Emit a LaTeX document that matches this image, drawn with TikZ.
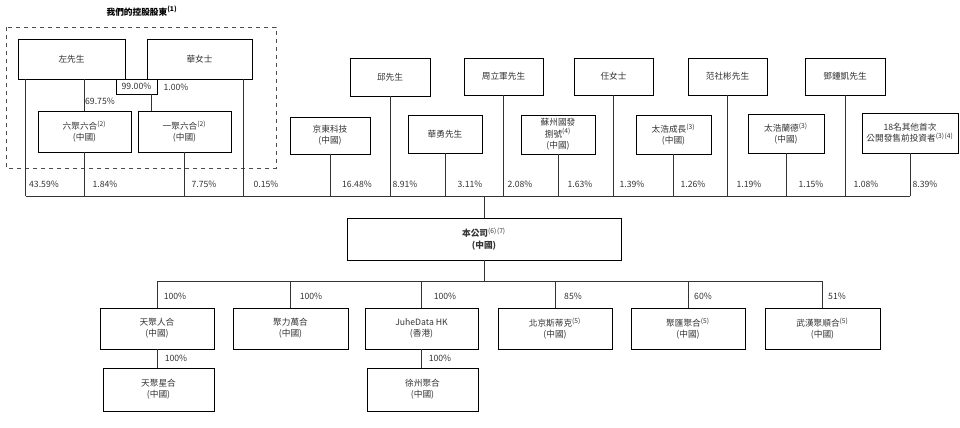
\documentclass[tikz,border=0pt]{standalone}
\usepackage{fontspec}
\setmainfont{Noto Sans CJK TC}
\usetikzlibrary{calc}
\newcommand\supn[1]{\textsuperscript{\tiny(#1)}}
\newcommand\bx[6]{\node[box,minimum width={(#4-#2)*0.75pt},minimum height={(#5-#3)*0.75pt}] (#1) at ({(#2+#4)/2},{(#3+#5)/2}) {#6};}
\begin{document}
\begin{tikzpicture}[x=0.75pt,y=-0.75pt,
  box/.style={draw,line width=0.5pt,inner sep=0pt,align=center,font=\fontsize{6.5}{8.5}\selectfont,text=black!80},
  pct/.style={font=\fontsize{6.5}{8}\selectfont,text=black!80,inner sep=0pt},
  ln/.style={line width=0.5pt,draw=black!80}]
\useasboundingbox (0,0) rectangle (960,428);
\node[font=\fontsize{6.5}{8}\selectfont\bfseries] (title) at (142,11) {我們的控股股東\supn{1}};
\draw[dashed,line width=0.5pt,draw=black!70] (6,27) rectangle (276,168);
\bx{zuo}{18}{39}{125}{79}{左先生}
\bx{hua}{147}{39}{252}{79}{華女士}
\bx{pbox}{116}{79}{157}{94}{\fontsize{6.5}{8}\selectfont 99.00\%}
\node[pct] (p100) at (176,87) {1.00\%};
\bx{liu}{38}{111}{131}{152}{六聚六合\supn{2}\\(中國)}
\bx{yi}{138}{111}{231}{152}{一聚六合\supn{2}\\(中國)}
\node[pct] (p6975) at (100,101) {69.75\%};
\draw[ln] ($(pbox.south east)+(-6,0)$) coordinate (pb) -- (pb |- yi.north);
\draw[ln] (liu.north |- zuo.south) -- (liu.north);
\coordinate (busL) at (26,196);
\coordinate (bus2) at (157,281);
% top level
\bx{jd}{290}{117}{370}{154}{京東科技\\(中國)}
\bx{qiu}{350}{58}{430}{96}{邱先生}
\bx{hy}{408}{115}{482}{153}{華勇先生}
\bx{zlj}{464}{58}{543}{95}{周立軍先生}
\bx{sz}{521}{115}{595}{154}{蘇州國發\\捌號\supn{4}\\(中國)}
\bx{ren}{574}{58}{653}{95}{任女士}
\bx{thc}{636}{115}{711}{154}{太浩成長\supn{3}\\(中國)}
\bx{fan}{688}{58}{767}{95}{范社彬先生}
\bx{thl}{748}{114}{824}{153}{太浩蘭德\supn{3}\\(中國)}
\bx{deng}{805}{58}{885}{95}{鄧鍾凱先生}
\bx{ipo}{862}{113}{958}{153}{18名其他首次\\公開發售前投資者\supn{3}\supn{4}}
\draw[ln] ($(zuo.south west)+(8,0)$) coordinate (z1) -- (z1 |- busL);
\draw[ln] (liu.south) -- (liu.south |- busL);
\draw[ln] (yi.south) -- (yi.south |- busL);
\draw[ln] ($(hua.south east)+(-9,0)$) coordinate (h1) -- (h1 |- busL);
\foreach \n in {jd,qiu,hy,zlj,sz,ren,thc,fan,thl,deng,ipo}{\draw[ln] (\n.south) -- (\n.south |- busL);}
\draw[ln] (busL) -- (busL -| ipo.south);
\foreach \x/\t in {44/43.59,105/1.84,204/7.75,266/0.15,357/16.48,405/8.91,470/3.11,520/2.08,580/1.63,632/1.39,693/1.26,749/1.19,811/1.15,866/1.08,925/8.39}{\node[pct] at (\x,184) {\t\%};}
% company
\bx{co}{347}{218}{621}{260}{\textbf{本公司}\supn{6}\supn{7}\\\textbf{(中國)}}
\draw[ln] (co.north) -- (co.north |- busL);
\draw[ln] (co.south) -- (co.south |- bus2);
\bx{tj}{100}{308}{214}{349}{天聚人合\\(中國)}
\bx{jl}{233}{308}{348}{349}{聚力萬合\\(中國)}
\bx{jh}{365}{308}{478}{349}{JuheData HK\\(香港)}
\bx{bj}{498}{308}{612}{349}{北京斯蒂克\supn{5}\\(中國)}
\bx{jhj}{631}{308}{745}{349}{聚匯聚合\supn{5}\\(中國)}
\bx{wh}{765}{308}{880}{349}{武漢聚順合\supn{5}\\(中國)}
\draw[ln] (bus2) -- (bus2 -| wh.north);
\foreach \n in {tj,jl,jh,bj,jhj,wh}{\draw[ln] (\n.north |- bus2) -- (\n.north);}
\foreach \x/\t in {175/100,311/100,445/100,573/85,703/60,837/51}{\node[pct] at (\x,296) {\t\%};}
\bx{tx}{103}{368}{214}{411}{天聚星合\\(中國)}
\bx{xz}{367}{368}{478}{411}{徐州聚合\\(中國)}
\draw[ln] (tj.south) -- (tj.south |- tx.north);
\draw[ln] (jh.south) -- (jh.south |- xz.north);
\node[pct] at (176,358) {100\%};
\node[pct] at (440,358) {100\%};
\end{tikzpicture}
\end{document}
